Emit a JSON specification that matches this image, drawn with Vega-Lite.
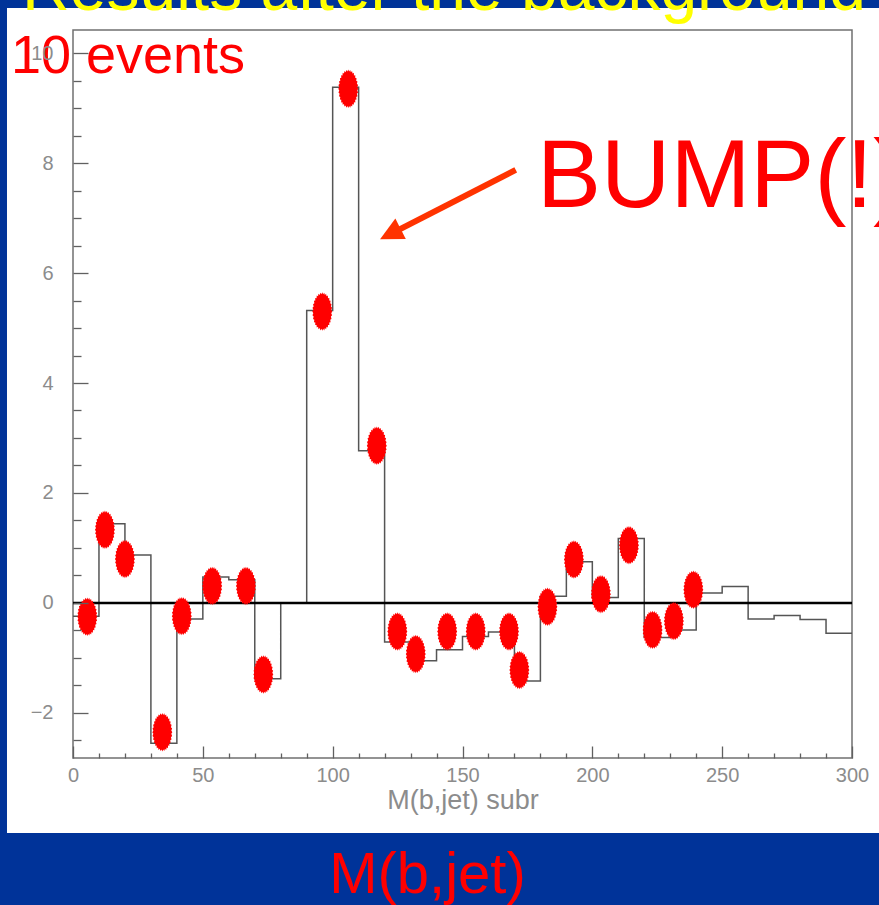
{
  "$schema": "https://vega.github.io/schema/vega-lite/v6.json",
  "width": 779,
  "height": 728,
  "autosize": {"type": "none"},
  "padding": {"left": 73, "top": 30, "right": 27, "bottom": 147},
  "background": "#003399",
  "config": {"view": {"stroke": null}},
  "resolve": {"axis": {"x": "independent", "y": "independent"}},
  "datasets": {
    "histogram": [
      {"edge": 0, "value": -0.24},
      {"edge": 10, "value": 1.44},
      {"edge": 20, "value": 0.87},
      {"edge": 30, "value": -2.55},
      {"edge": 40, "value": -0.29},
      {"edge": 50, "value": 0.47},
      {"edge": 60, "value": 0.42},
      {"edge": 70, "value": -1.38},
      {"edge": 80, "value": 0.0},
      {"edge": 90, "value": 5.32},
      {"edge": 100, "value": 9.38},
      {"edge": 110, "value": 2.77},
      {"edge": 120, "value": -0.71},
      {"edge": 130, "value": -1.05},
      {"edge": 140, "value": -0.85},
      {"edge": 150, "value": -0.61},
      {"edge": 160, "value": -0.53},
      {"edge": 170, "value": -1.42},
      {"edge": 180, "value": 0.12},
      {"edge": 190, "value": 0.75},
      {"edge": 200, "value": 0.10},
      {"edge": 210, "value": 1.17},
      {"edge": 220, "value": -0.63},
      {"edge": 230, "value": -0.49},
      {"edge": 240, "value": 0.18},
      {"edge": 250, "value": 0.30},
      {"edge": 260, "value": -0.29},
      {"edge": 270, "value": -0.23},
      {"edge": 280, "value": -0.30},
      {"edge": 290, "value": -0.55},
      {"edge": 300, "value": -0.55}
    ],
    "events": [
      {"mass": 5.5, "value": -0.25},
      {"mass": 12.3, "value": 1.33},
      {"mass": 20.0, "value": 0.80},
      {"mass": 34.4, "value": -2.35},
      {"mass": 41.9, "value": -0.24},
      {"mass": 53.6, "value": 0.31},
      {"mass": 66.6, "value": 0.31},
      {"mass": 73.3, "value": -1.30},
      {"mass": 96.0, "value": 5.30},
      {"mass": 106.0, "value": 9.35},
      {"mass": 117.0, "value": 2.86},
      {"mass": 124.9, "value": -0.52},
      {"mass": 132.0, "value": -0.93},
      {"mass": 144.1, "value": -0.52},
      {"mass": 155.1, "value": -0.52},
      {"mass": 167.9, "value": -0.52},
      {"mass": 171.9, "value": -1.22},
      {"mass": 182.7, "value": -0.07},
      {"mass": 192.9, "value": 0.79},
      {"mass": 203.3, "value": 0.16},
      {"mass": 214.1, "value": 1.05},
      {"mass": 223.2, "value": -0.49},
      {"mass": 231.4, "value": -0.33},
      {"mass": 238.9, "value": 0.24}
    ]
  },
  "layer": [
    {
      "description": "white slide panel behind the plot",
      "data": {"values": [{}]},
      "mark": {"type": "rect", "fill": "white", "clip": false},
      "encoding": {
        "x": {"datum": -25.42, "type": "quantitative", "axis": null},
        "x2": {"datum": 312},
        "y": {"datum": -4.183, "type": "quantitative", "axis": null},
        "y2": {"datum": 10.821}
      }
    },
    {
      "description": "plot frame; holds the shared scales and the minor tick axes",
      "data": {"values": [{}]},
      "mark": {"type": "rect", "fillOpacity": 0, "stroke": "#707070", "strokeWidth": 1.5},
      "encoding": {
        "x": {
          "datum": 0,
          "type": "quantitative",
          "scale": {"domain": [0, 300], "nice": false, "zero": false},
          "axis": {
            "orient": "bottom",
            "values": [10, 20, 30, 40, 60, 70, 80, 90, 110, 120, 130, 140, 160, 170, 180, 190, 210, 220, 230, 240, 260, 270, 280, 290],
            "labels": false,
            "tickSize": -5,
            "tickColor": "#606060",
            "tickWidth": 1.3,
            "domain": false,
            "grid": false,
            "title": null,
            "zindex": 1
          }
        },
        "x2": {"datum": 300},
        "y": {
          "datum": -2.82,
          "type": "quantitative",
          "scale": {"domain": [-2.82, 10.42], "nice": false, "zero": false},
          "axis": {
            "orient": "left",
            "values": [-2.5, -1.5, -1, -0.5, 0.5, 1, 1.5, 2.5, 3, 3.5, 4.5, 5, 5.5, 6.5, 7, 7.5, 8.5, 9, 9.5],
            "labels": false,
            "tickSize": -8,
            "tickColor": "#606060",
            "tickWidth": 1.3,
            "domain": false,
            "grid": false,
            "title": null,
            "zindex": 1
          }
        },
        "y2": {"datum": 10.42}
      }
    },
    {
      "description": "background-subtracted histogram; holds the labelled axes",
      "data": {"name": "histogram"},
      "mark": {"type": "line", "interpolate": "step-after", "color": "#555555", "strokeWidth": 1.5},
      "encoding": {
        "x": {
          "field": "edge",
          "type": "quantitative",
          "axis": {
            "orient": "bottom",
            "values": [0, 50, 100, 150, 200, 250, 300],
            "ticks": false,
            "domain": false,
            "grid": false,
            "labelFlush": false,
            "labelOverlap": false,
            "labelFont": "Liberation Sans",
            "labelFontSize": 20,
            "labelColor": "#8c8c8c",
            "labelPadding": 7,
            "title": "M(b,jet) subr",
            "titleFont": "Liberation Sans",
            "titleFontSize": 27,
            "titleFontWeight": "normal",
            "titleColor": "#8c8c8c",
            "titleBaseline": "alphabetic",
            "titleY": 50,
            "zindex": 1
          }
        },
        "y": {
          "field": "value",
          "type": "quantitative",
          "axis": {
            "orient": "left",
            "values": [-2, 0, 2, 4, 6, 8, 10],
            "ticks": false,
            "domain": false,
            "grid": false,
            "labelFlush": false,
            "labelOverlap": false,
            "labelFont": "Liberation Sans",
            "labelFontSize": 20,
            "labelColor": "#8c8c8c",
            "labelPadding": 20,
            "title": null,
            "zindex": 1
          }
        }
      }
    },
    {
      "description": "zero line",
      "data": {"values": [{}]},
      "mark": {"type": "rule", "color": "black", "strokeWidth": 2.5},
      "encoding": {
        "x": {"datum": 0, "type": "quantitative", "axis": null},
        "x2": {"datum": 300},
        "y": {"datum": 0, "type": "quantitative", "axis": null}
      }
    },
    {
      "description": "event markers; hold the major tick axes",
      "data": {"name": "events"},
      "mark": {
        "type": "point",
        "filled": true,
        "opacity": 1,
        "color": "#ff0000",
        "size": 1480,
        "shape": "M0.52,0L0.4657,0.0882L0.51,0.1951L0.4478,0.2613L0.4804,0.3827L0.4127,0.4243L0.4324,0.5556L0.3618,0.571L0.3677,0.7071L0.2969,0.6957L0.2889,0.8315L0.2206,0.7937L0.199,0.9239L0.1359,0.8612L0.1014,0.9808L0.0459,0.8957L0,1L-0.0459,0.8957L-0.1014,0.9808L-0.1359,0.8612L-0.199,0.9239L-0.2206,0.7937L-0.2889,0.8315L-0.2969,0.6957L-0.3677,0.7071L-0.3618,0.571L-0.4324,0.5556L-0.4127,0.4243L-0.4804,0.3827L-0.4478,0.2613L-0.51,0.1951L-0.4657,0.0882L-0.52,0L-0.4657,-0.0882L-0.51,-0.1951L-0.4478,-0.2613L-0.4804,-0.3827L-0.4127,-0.4243L-0.4324,-0.5556L-0.3618,-0.571L-0.3677,-0.7071L-0.2969,-0.6957L-0.2889,-0.8315L-0.2206,-0.7937L-0.199,-0.9239L-0.1359,-0.8612L-0.1014,-0.9808L-0.0459,-0.8957L0,-1L0.0459,-0.8957L0.1014,-0.9808L0.1359,-0.8612L0.199,-0.9239L0.2206,-0.7937L0.2889,-0.8315L0.2969,-0.6957L0.3677,-0.7071L0.3618,-0.571L0.4324,-0.5556L0.4127,-0.4243L0.4804,-0.3827L0.4478,-0.2613L0.51,-0.1951L0.4657,-0.0882Z"
      },
      "encoding": {
        "x": {
          "field": "mass",
          "type": "quantitative",
          "axis": {
            "orient": "bottom",
            "values": [0, 50, 100, 150, 200, 250, 300],
            "labels": false,
            "tickSize": -12,
            "tickColor": "#606060",
            "tickWidth": 1.3,
            "domain": false,
            "grid": false,
            "title": null,
            "zindex": 1
          }
        },
        "y": {
          "field": "value",
          "type": "quantitative",
          "axis": {
            "orient": "left",
            "values": [-2, 0, 2, 4, 6, 8, 10],
            "labels": false,
            "tickSize": -15,
            "tickColor": "#606060",
            "tickWidth": 1.3,
            "domain": false,
            "grid": false,
            "title": null,
            "zindex": 1
          }
        }
      }
    },
    {
      "description": "arrow shaft",
      "data": {"values": [{}]},
      "mark": {"type": "rule", "color": "#ff3300", "strokeWidth": 6, "clip": false},
      "encoding": {
        "x": {"datum": 170.5, "type": "quantitative", "axis": null},
        "x2": {"datum": 122.2},
        "y": {"datum": 7.875, "type": "quantitative", "axis": null},
        "y2": {"datum": 6.709}
      }
    },
    {
      "description": "arrow head",
      "data": {"values": [{}]},
      "mark": {"type": "point", "filled": true, "opacity": 1, "color": "#ff3300", "size": 530, "angle": 333, "shape": "M-1,0L1,-1L1,1Z"},
      "encoding": {
        "x": {"datum": 122.2, "type": "quantitative", "axis": null},
        "y": {"datum": 6.709, "type": "quantitative", "axis": null}
      }
    },
    {
      "description": "annotations",
      "data": {"values": [{}]},
      "layer": [
        {
          "mark": {"type": "text", "text": "10 events", "font": "Liberation Sans", "fontSize": 54, "color": "#ff0000", "align": "left", "baseline": "alphabetic", "clip": false},
          "encoding": {
            "x": {"datum": -23.9, "type": "quantitative", "axis": null},
            "y": {"datum": 9.64, "type": "quantitative", "axis": null}
          }
        },
        {
          "mark": {"type": "text", "text": "BUMP(!)", "font": "Liberation Sans", "fontSize": 96, "color": "#ff0000", "align": "left", "baseline": "alphabetic", "clip": false},
          "encoding": {
            "x": {"datum": 178.7, "type": "quantitative", "axis": null},
            "y": {"datum": 7.2, "type": "quantitative", "axis": null}
          }
        },
        {
          "mark": {"type": "text", "text": "M(b,jet)", "font": "Liberation Sans", "fontSize": 58, "color": "#ff0000", "align": "center", "baseline": "alphabetic", "clip": false},
          "encoding": {
            "x": {"datum": 136.5, "type": "quantitative", "axis": null},
            "y": {"datum": -5.274, "type": "quantitative", "axis": null}
          }
        },
        {
          "mark": {"type": "text", "text": "Results after the background subtraction", "font": "Liberation Sans", "fontSize": 66, "color": "#ffff00", "align": "left", "baseline": "alphabetic", "clip": false},
          "encoding": {
            "x": {"datum": -19.6, "type": "quantitative", "axis": null},
            "y": {"datum": 10.785, "type": "quantitative", "axis": null}
          }
        }
      ]
    }
  ]
}
